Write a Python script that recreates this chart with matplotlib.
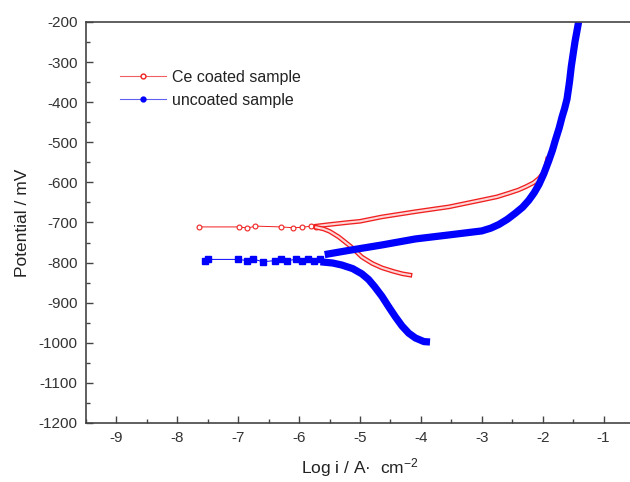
import matplotlib
matplotlib.use('Agg')
import matplotlib.pyplot as plt
import matplotlib.patheffects as pe
from matplotlib.ticker import MultipleLocator

plt.rcParams['font.family'] = ['Liberation Sans', 'DejaVu Sans']
plt.rcParams['mathtext.fontset'] = 'custom'
plt.rcParams['mathtext.rm'] = 'Liberation Sans'
plt.rcParams['mathtext.it'] = 'Liberation Sans'
plt.rcParams['axes.unicode_minus'] = False

# Ce coated sample
ce_flat_x = [-7.65, -6.98, -6.85, -6.72, -6.30, -6.10, -5.95, -5.80, -5.72]
ce_flat_y = [-711, -711, -714, -709, -711, -713, -712, -709, -710]
ce_anodic_x = [-5.72, -5.50, -5.20, -5.00, -4.64, -4.09, -3.54, -3.00, -2.75, -2.56, -2.40, -2.28, -2.15, -2.06, -1.99, -1.95, -1.92]
ce_anodic_y = [-709, -705, -700, -697, -686, -673, -661, -644, -636, -627, -619, -611, -601, -590, -577, -562, -542]
ce_cath_x = [-5.72, -5.60, -5.50, -5.35, -5.15, -4.97, -4.80, -4.64, -4.45, -4.30, -4.18]
ce_cath_y = [-712, -716, -722, -736, -760, -786, -802, -813, -822, -828, -831]

# uncoated sample
un_flat_x = [-7.55, -7.50, -7.00, -6.85, -6.75, -6.60, -6.40, -6.30, -6.20, -6.05, -5.95, -5.85, -5.75, -5.65]
un_flat_y = [-795, -792, -792, -795, -791, -798, -795, -790, -795, -792, -797, -790, -796, -792]
un_anodic_x = [-5.58, -5.20, -4.64, -4.09, -3.54, -3.00, -2.85, -2.72, -2.58, -2.45, -2.33, -2.23, -2.14, -2.06, -1.98, -1.90, -1.84, -1.79, -1.73, -1.68, -1.64, -1.60, -1.56, -1.53, -1.47, -1.41]
un_anodic_y = [-780, -770, -756, -741, -731, -721, -714, -705, -692, -677, -662, -645, -626, -605, -578, -546, -520, -494, -465, -436, -416, -392, -350, -311, -250, -200]
un_cath_x = [-5.65, -5.45, -5.30, -5.12, -4.97, -4.86, -4.76, -4.64, -4.53, -4.42, -4.31, -4.20, -4.09, -3.95, -3.85]
un_cath_y = [-798, -801, -806, -815, -828, -842, -860, -884, -910, -935, -958, -976, -988, -997, -998]

red = '#f02020'
blue = '#0000ff'

fig = plt.figure(figsize=(6.3, 4.82), dpi=100)
ax = fig.add_axes([86/630, 1 - 423/482, 548/630, 401/482])

band = [pe.Stroke(linewidth=3.4, foreground=red), pe.Normal()]
ax.plot(ce_flat_x, ce_flat_y, color=red, lw=0.7, marker='o', ms=3.5, mfc='white', mec=red, mew=0.8)
ax.plot(ce_anodic_x, ce_anodic_y, color='#ffd6d6', lw=1.5, path_effects=band, solid_joinstyle='round')
ax.plot(ce_cath_x, ce_cath_y, color='#ffd6d6', lw=1.5, path_effects=band, solid_joinstyle='round')

ax.plot(un_flat_x, un_flat_y, color=blue, lw=0.7, marker='s', ms=4, mfc=blue, mec=blue)
ax.plot(un_anodic_x, un_anodic_y, color=blue, lw=5.2, solid_capstyle='butt', solid_joinstyle='round')
ax.plot(un_cath_x, un_cath_y, color=blue, lw=5.2, solid_capstyle='butt', solid_joinstyle='round')

# legend proxies
h1, = ax.plot([], [], color='#f06060', lw=0.8, marker='o', ms=3.5, mfc='white', mec=red, label='Ce coated sample')
h2, = ax.plot([], [], color='#6060f0', lw=0.8, marker='o', ms=3.5, mfc=blue, mec=blue, label='uncoated sample')
ax.legend(handles=[h1, h2], loc='upper left', bbox_to_anchor=(0.035, 0.917), frameon=False,
          fontsize=11.5, handlelength=2.9, handletextpad=0.4, labelspacing=0.5,
          labelcolor='#222222')

ax.set_xlim(-9.5, -0.5)
ax.set_ylim(-1200, -200)
ax.xaxis.set_major_locator(MultipleLocator(1))
ax.xaxis.set_minor_locator(MultipleLocator(0.5))
ax.yaxis.set_major_locator(MultipleLocator(100))
ax.yaxis.set_minor_locator(MultipleLocator(50))
ax.tick_params(which='both', direction='in', top=False, right=False, labelsize=11,
               colors='#444444', labelcolor='#333333')
ax.tick_params(which='major', length=5, width=1, pad=6)
ax.tick_params(which='minor', length=3, width=1)
ax.spines['right'].set_visible(False)
for s in ['left', 'bottom', 'top']:
    ax.spines[s].set_color('#444444')
    ax.spines[s].set_linewidth(1.2)

ax.set_ylabel('Potential / mV', fontsize=12.5, color='#222222', labelpad=6)
ax.set_xlabel('Log i / A·  cm$^{-2}$', fontsize=12.5, color='#222222', labelpad=8)

fig.savefig('out.png', dpi=100)
